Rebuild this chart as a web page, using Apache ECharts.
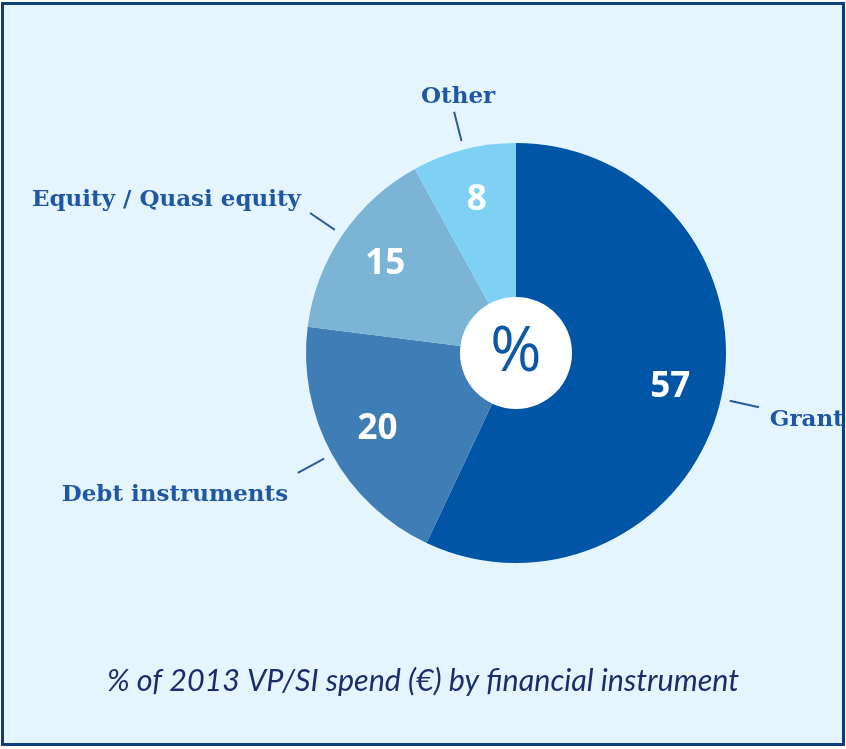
<!DOCTYPE html>
<html>
<head>
<meta charset="utf-8">
<script src="https://cdn.jsdelivr.net/npm/echarts@6/dist/echarts.min.js"></script>
<style>
html,body{margin:0;padding:0;background:#ffffff;}
#frame{position:absolute;left:1px;top:2px;width:844px;height:744px;box-sizing:border-box;border:3px solid #0e3d7c;background:#e4f5fd;}
#chart{position:absolute;left:0;top:0;width:846px;height:749px;}
</style>
</head>
<body>
<div id="frame"></div>
<div id="chart"></div>
<script>
// ---- data ----
const categories = ['Grant', 'Debt instruments', 'Equity / Quasi equity', 'Other'];
const shares = [57, 20, 15, 8];
const centerSymbol = '%';
const caption = '% of 2013 VP/SI spend (\u20AC) by financial instrument';

// ---- styles ----
const sliceColors = ['#0055a6', '#3f7db6', '#7bb4d4', '#7ed1f4'];
const CENTER = [516, 353];
const R = 210;

const baseData = categories.map((c, i) => ({ name: c, value: shares[i] }));

const chart = echarts.init(document.getElementById('chart'), null, { renderer: 'canvas' });

function nameLayout(p) {
  const pts = p.labelLinePoints;
  if (!pts) return {};
  const a = pts[0], b = pts[1];
  let dx = b[0] - a[0], dy = b[1] - a[1];
  const len = Math.hypot(dx, dy) || 1;
  dx /= len; dy /= len;
  let x, y, align, va;
  if (Math.abs(dy) > 0.9) {
    x = b[0] + 4; y = b[1] + dy * 3;
    align = 'center'; va = dy < 0 ? 'bottom' : 'top';
  } else {
    x = b[0] + dx * 11; y = b[1] + dy * 33 + 6;
    align = dx < 0 ? 'right' : 'left'; va = 'middle';
  }
  return { x: x, y: y, align: align, verticalAlign: va, labelLinePoints: pts };
}

const option = {
  backgroundColor: 'transparent',
  animation: false,
  title: {
    text: caption,
    left: 'center',
    top: 661,
    textStyle: {
      fontFamily: 'Lato',
      fontStyle: 'italic',
      fontWeight: 'normal',
      fontSize: 30.5,
      color: '#1b2d6b'
    }
  },
  series: [
    {
      // visible slices
      type: 'pie',
      center: CENTER,
      radius: [0, R],
      startAngle: 90,
      clockwise: true,
      silent: true,
      label: { show: false },
      labelLine: { show: false },
      emphasis: { disabled: true },
      data: baseData.map((d, i) => ({ name: d.name, value: d.value, itemStyle: { color: sliceColors[i] } }))
    },
    {
      // number labels
      type: 'pie',
      center: CENTER,
      radius: [100, R],
      startAngle: 90,
      silent: true,
      itemStyle: { color: 'rgba(0,0,0,0)' },
      emphasis: { disabled: true },
      label: {
        show: true,
        position: 'inside',
        formatter: '{c}',
        color: '#ffffff',
        fontFamily: 'Open Sans',
        fontWeight: 'bold',
        fontSize: 35
      },
      labelLine: { show: false },
      data: baseData
    },
    {
      // name labels with leader ticks
      type: 'pie',
      center: CENTER,
      radius: [0, 219],
      startAngle: 90,
      silent: true,
      avoidLabelOverlap: false,
      itemStyle: { color: 'rgba(0,0,0,0)' },
      emphasis: { disabled: true },
      label: {
        show: true,
        position: 'outside',
        formatter: '{b}',
        color: '#1f57a3',
        fontFamily: 'DejaVu Serif',
        fontWeight: 'bold',
        fontSize: 23
      },
      labelLine: {
        show: true,
        length: 30,
        length2: 0,
        lineStyle: { color: '#2a5aa0', width: 2 }
      },
      labelLayout: nameLayout,
      data: baseData
    },
    {
      // white centre disc with percent symbol
      type: 'pie',
      center: CENTER,
      radius: [0, 56],
      silent: true,
      emphasis: { disabled: true },
      itemStyle: { color: '#ffffff' },
      label: {
        show: true,
        position: 'center',
        formatter: centerSymbol,
        color: '#0d58a6',
        fontFamily: 'Open Sans',
        fontSize: 62,
        padding: [10, 0, 0, 0]
      },
      labelLine: { show: false },
      data: [{ name: centerSymbol, value: 1 }]
    }
  ]
};
chart.setOption(option);
</script>
</body>
</html>
